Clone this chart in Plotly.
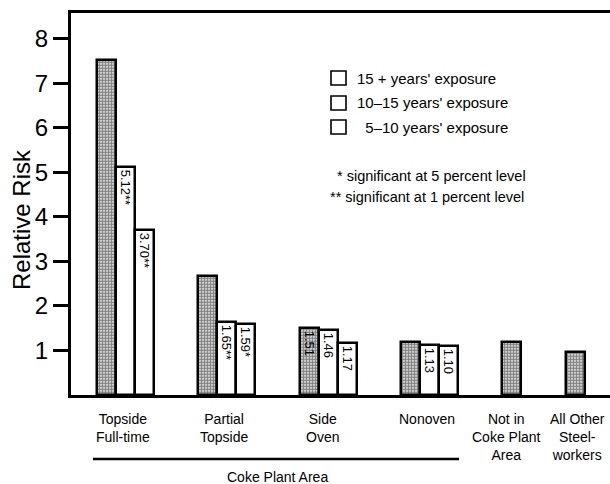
import plotly.graph_objects as go

# ---- data ----
categories = ["Topside<br>Full-time", "Partial<br>Topside", "Side<br>Oven", "Nonoven",
              "Not in<br>Coke Plant<br>Area", "All Other<br>Steel-<br>workers"]
risk_15_plus = [7.53, 2.68, 1.51, 1.20, 1.20, 0.96]
risk_10_15 = [5.12, 1.65, 1.46, 1.13]
risk_5_10 = [3.70, 1.59, 1.17, 1.10]
labels_15_plus = ["", "", "1.51", "", "", ""]
labels_10_15 = ["5.12**", "1.65**", "1.46", "1.13"]
labels_5_10 = ["3.70**", "1.59*", "1.17", "1.10"]
series_names = ["15 + years' exposure", "10\u201315 years' exposure", "\u00a0\u00a05\u201310 years' exposure"]
notes = ["* significant at 5 percent level", "** significant at 1 percent level"]
group_label = "Coke Plant Area"
y_ticks = [1, 2, 3, 4, 5, 6, 7, 8]

# ---- layout geometry (pixels of 610x484 canvas) ----
W, H = 610, 484
L, R, T, B = 71, 0, 13, 89
PW, PH = W - L - R, H - T - B
YMAX = 8.58
group_left = [26, 127, 229, 330, 431, 495]   # x-axis units (= px from left axis)
label_shift = [-3, -3, -6, -3, -5, 2]         # small horizontal nudges of category labels
bw = 19

def px_x(px):
    return (px - L) / PW

def px_y(py):
    return (H - B - py) / PH

FONT = "Liberation Sans, Arial, Helvetica, sans-serif"

fig = go.Figure()
series = [(risk_15_plus, labels_15_plus), (risk_10_15, labels_10_15), (risk_5_10, labels_5_10)]
for k, (vals, labs) in enumerate(series):
    xs = [group_left[i] + bw / 2 + k * bw for i in range(len(vals))]
    marker = dict(color="white", line=dict(color="black", width=2.5))
    if k == 0:
        marker["pattern"] = dict(shape=".", fgcolor="black", bgcolor="white", size=3, solidity=0.7)
    fig.add_trace(go.Bar(
        x=xs, y=vals, width=bw, name=series_names[k], marker=marker,
        text=labs, textposition="inside", insidetextanchor="end", textangle=90,
        textfont=dict(family=FONT, size=13, color="black"),
        constraintext="none", showlegend=False, hoverinfo="skip"))

annotations = []
# category labels
for i, c in enumerate(categories):
    n = 3 if i < 4 else 1
    cx = group_left[i] + n * bw / 2 + label_shift[i]
    annotations.append(dict(x=cx, xref="x", y=px_y(409), yref="paper", yanchor="top",
                            text=c, showarrow=False, align="center",
                            font=dict(family=FONT, size=14, color="black")))
annotations.append(dict(x=px_x(277), xref="paper", y=px_y(477), yref="paper",
                        xanchor="center", yanchor="middle",
                        text=group_label, showarrow=False,
                        font=dict(family=FONT, size=14, color="black")))
# y title
annotations.append(dict(x=px_x(21), xref="paper", y=px_y(220), yref="paper",
                        xanchor="center", yanchor="middle",
                        text="Relative Risk", textangle=-90, showarrow=False,
                        font=dict(family=FONT, size=24, color="black")))
# legend
shapes = []
rows = [78, 103, 127]
for r, name in zip(rows, series_names):
    shapes.append(dict(type="rect", xref="paper", yref="paper",
                       x0=px_x(331), x1=px_x(346), y0=px_y(r + 7), y1=px_y(r - 7),
                       line=dict(color="black", width=1.6), fillcolor="white"))
    annotations.append(dict(x=px_x(355), xref="paper", y=px_y(r), yref="paper",
                            xanchor="left", yanchor="middle", text=name, showarrow=False,
                            font=dict(family=FONT, size=15, color="black")))
for py, px, t in zip([176, 197], [335, 328], notes):
    annotations.append(dict(x=px_x(px), xref="paper", y=px_y(py), yref="paper",
                            xanchor="left", yanchor="middle", text=t, showarrow=False,
                            font=dict(family=FONT, size=14.5, color="black")))
# underline for Coke Plant Area
shapes.append(dict(type="line", xref="paper", yref="paper",
                   x0=px_x(93), x1=px_x(459), y0=px_y(459), y1=px_y(459),
                   line=dict(color="black", width=2.5)))

fig.update_layout(
    width=W, height=H, margin=dict(l=L, r=R, t=T, b=B),
    paper_bgcolor="white", plot_bgcolor="white",
    bargap=0, barmode="overlay",
    annotations=annotations, shapes=shapes, showlegend=False,
    xaxis=dict(range=[0, PW], showline=True, linecolor="black", linewidth=2.5,
               mirror=True, showticklabels=False, ticks="", showgrid=False, zeroline=False),
    yaxis=dict(range=[0, YMAX], showline=True, linecolor="black", linewidth=3,
               tickvals=y_ticks, ticks="outside", ticklen=15, tickwidth=2.5, tickcolor="black",
               tickfont=dict(family=FONT, size=24, color="black"),
               showgrid=False, zeroline=False),
)
fig.write_html("out.html", config={"displayModeBar": False},
               post_script="document.body.style.margin='0';document.body.style.overflow='hidden';")
